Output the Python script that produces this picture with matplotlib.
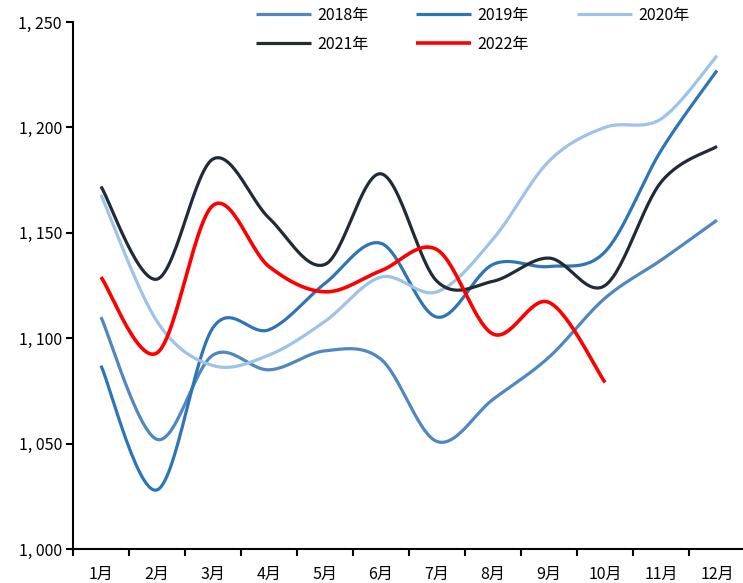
import matplotlib
matplotlib.use("Agg")
import matplotlib.pyplot as plt
import numpy as np
from matplotlib.ticker import FixedLocator, FuncFormatter

plt.rcParams["font.family"] = ["Noto Sans CJK SC", "DejaVu Sans"]
plt.rcParams["axes.unicode_minus"] = False

# ── 数据 ─────────────────────────────────────────────
months = ["1月", "2月", "3月", "4月", "5月", "6月",
          "7月", "8月", "9月", "10月", "11月", "12月"]
y2018 = [1110, 1052, 1092, 1085, 1094, 1090, 1051, 1071, 1091, 1119, 1137, 1156]
y2019 = [1087, 1028, 1105, 1104, 1126, 1145, 1110, 1135, 1134, 1141, 1189, 1227]
y2020 = [1168, 1108, 1087, 1092, 1108, 1129, 1122, 1147, 1184, 1200, 1204, 1234]
y2021 = [1172, 1128, 1185, 1157, 1135, 1178, 1127, 1127, 1138, 1125, 1174, 1191]
y2022 = [1129, 1093, 1163, 1134, 1122, 1132, 1142, 1102, 1117, 1079]

series = [
    ("2018年", y2018, "#5087C1", 2.3),
    ("2019年", y2019, "#2E75B6", 2.3),
    ("2020年", y2020, "#9DC3E6", 2.3),
    ("2021年", y2021, "#222A35", 2.3),
    ("2022年", y2022, "#FF0000", 2.6),
]


def smooth(xs, ys, n=30):
    """Excel 风格平滑线 (Catmull-Rom -> Bezier)."""
    p = np.column_stack([xs, ys]).astype(float)
    pts = np.vstack([p[0], p, p[-1]])
    out = []
    t = np.linspace(0, 1, n)[:, None]
    for i in range(1, len(pts) - 2):
        p0, p1, p2, p3 = pts[i - 1], pts[i], pts[i + 1], pts[i + 2]
        c1 = p1 + (p2 - p0) / 6
        c2 = p2 - (p3 - p1) / 6
        seg = ((1 - t) ** 3) * p1 + 3 * ((1 - t) ** 2) * t * c1 \
            + 3 * (1 - t) * t ** 2 * c2 + t ** 3 * p2
        out.append(seg if i == 1 else seg[1:])
    out = np.vstack(out)
    return out[:, 0], out[:, 1]


fig = plt.figure(figsize=(7.43, 5.83), dpi=100)
ax = fig.add_axes([73 / 743, 34 / 583, 672 / 743, 527 / 583])

handles = {}
for name, vals, color, lw in series:
    sx, sy = smooth(np.arange(len(vals)), vals)
    ln, = ax.plot(sx, sy, color=color, lw=lw, solid_capstyle="butt",
                  solid_joinstyle="round", label=name)
    handles[name] = ln

ax.set_xlim(-0.5, 11.5)
ax.set_ylim(1000, 1250)
ax.set_yticks(np.arange(1000, 1251, 50))
ax.yaxis.set_major_formatter(FuncFormatter(lambda v, _: f"{int(v) // 1000}, {int(v) % 1000:03d}"))
ax.set_xticks(range(12))
ax.set_xticklabels(months)
ax.xaxis.set_minor_locator(FixedLocator(np.arange(-0.5, 12, 1)))
ax.tick_params(axis="x", which="major", length=0, pad=12, labelsize=11.5)
ax.tick_params(axis="x", which="minor", length=5, width=1.5, direction="out")
ax.tick_params(axis="y", length=5, width=1.5, direction="out", labelsize=11.5, pad=3)

for s in ["top", "right"]:
    ax.spines[s].set_visible(False)
for s in ["left", "bottom"]:
    ax.spines[s].set_linewidth(1.5)
    ax.spines[s].set_color("black")

order = ["2018年", "2021年", "2019年", "2022年", "2020年"]
fig.legend([handles[k] for k in order], order, ncol=3, frameon=False,
           loc="upper left", bbox_to_anchor=(246 / 743, 1.005), fontsize=11.5,
           handlelength=3.45, handletextpad=0.4, columnspacing=3.0,
           labelspacing=0.75, borderaxespad=0.2)

fig.savefig("out.png", dpi=100)
